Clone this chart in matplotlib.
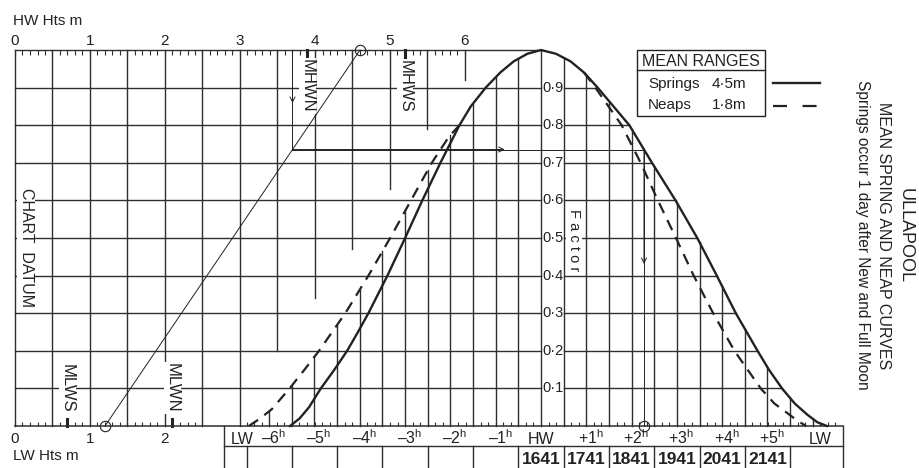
import numpy as np
import matplotlib
matplotlib.use("Agg")
import matplotlib.pyplot as plt
from matplotlib.lines import Line2D
from matplotlib.patches import Rectangle

plt.rcParams['font.family'] = ['Liberation Sans', 'DejaVu Sans']
plt.rcParams['mathtext.fontset'] = 'custom'
plt.rcParams['mathtext.rm'] = 'Liberation Sans'
plt.rcParams['mathtext.it'] = 'Liberation Sans'
plt.rcParams['mathtext.bf'] = 'Liberation Sans:bold'
plt.rcParams['mathtext.default'] = 'regular'

# ---------------- data ----------------
springs_hours = [-5.54, -5.33, -5.12, -4.86, -4.56, -4.28, -4.04, -3.81, -3.39, -3.00, -2.62, -2.22, -1.80,
                 -1.55, -1.22, -0.90, -0.60, -0.30, 0.00,
                 0.33, 0.65, 0.95, 1.25, 1.60, 1.95, 2.45, 2.97, 3.45, 3.88, 4.30, 4.78, 5.03, 5.32, 5.60,
                 5.88, 6.10, 6.31]
springs_factor = [0.00, 0.02, 0.05, 0.10, 0.15, 0.20, 0.25, 0.30, 0.40, 0.50, 0.60, 0.70, 0.80,
                  0.85, 0.90, 0.94, 0.97, 0.99, 1.00,
                  0.99, 0.97, 0.94, 0.90, 0.85, 0.80, 0.70, 0.60, 0.50, 0.40, 0.30, 0.20, 0.15, 0.10, 0.06,
                  0.03, 0.01, 0.00]
neaps_rise_hours = [-6.45, -6.20, -5.94, -5.55, -5.22, -4.90, -4.32, -3.81, -3.33, -2.87, -2.41, -2.03, -1.80]
neaps_rise_factor = [0.00, 0.02, 0.045, 0.10, 0.15, 0.20, 0.30, 0.40, 0.50, 0.60, 0.70, 0.77, 0.80]
neaps_fall_hours = [0.95, 1.20, 1.78, 2.20, 2.58, 2.98, 3.37, 3.80, 4.27, 4.85, 5.15, 5.43, 5.65, 5.85]
neaps_fall_factor = [0.94, 0.90, 0.80, 0.70, 0.60, 0.50, 0.40, 0.30, 0.20, 0.10, 0.06, 0.035, 0.015, 0.00]

factor_levels = [0.1, 0.2, 0.3, 0.4, 0.5, 0.6, 0.7, 0.8, 0.9]
factor_labels = ['0·1', '0·2', '0·3', '0·4', '0·5', '0·6', '0·7', '0·8', '0·9']

hw_height_ticks = [0, 1, 2, 3, 4, 5, 6]
lw_height_ticks = [0, 1, 2]
height_grid = [0.5, 1.0, 1.5, 2.0, 2.5, 3.0, 3.5, 4.0, 4.5, 5.0, 5.5, 6.0]
height_grid_stop = [0, 0, 0, 0, 0, 0, 0.20, 0.34, 0.47, 0.63, 0.79, 0.92]

level_names = ['MHWS', 'MHWN', 'MLWN', 'MLWS']
level_heights = [5.2, 3.9, 2.1, 0.7]
level_on_hw_scale = [True, True, False, False]

example_hw = 4.6
example_lw = 1.2
example_height = 3.7

time_label_hours = [-6.6, -6, -5, -4, -3, -2, -1, 0, 1, 2, 3, 4, 5, 6.16]
time_labels = ['LW', '–6$^{h}$', '–5$^{h}$', '–4$^{h}$', '–3$^{h}$', '–2$^{h}$', '–1$^{h}$', 'HW',
               '+1$^{h}$', '+2$^{h}$', '+3$^{h}$', '+4$^{h}$', '+5$^{h}$', 'LW']
hw_time_hours = [0, 1, 2, 3, 4, 5]
hw_times = ['1641', '1741', '1841', '1941', '2041', '2141']

springs_range = 4.5
neaps_range = 1.8

# ---------------- layout ----------------
W, H, DPI = 920, 468, 100
X0_PX, M_PX = 15, 75.0
HW_PX, H_PX = 541, 45.3
BASE_PX, TOP_PX = 426, 50
TABLE_LEFT_H, TABLE_RIGHT_H = -7.0, 6.67
INK = '#222222'
GRID = '#2e2e2e'


def fy(py):
    return (BASE_PX - py) / (BASE_PX - TOP_PX)


def fx(px):
    return px / W


def fyf(py):
    return 1 - py / H


fig = plt.figure(figsize=(W / DPI, H / DPI), dpi=DPI)
fig.patch.set_facecolor('white')
axh = fig.add_axes([0, 0, 1, 1])
axh.set_xlim(-X0_PX / M_PX, (W - X0_PX) / M_PX)
axh.set_ylim(fy(H), fy(0))
axt = fig.add_axes([0, 0, 1, 1])
axt.set_xlim(-HW_PX / H_PX, (W - HW_PX) / H_PX)
axt.set_ylim(fy(H), fy(0))
for a in (axh, axt):
    a.axis('off')
    a.patch.set_alpha(0)


def m2h(m):
    d = axh.transData.transform((m, 0))
    return axt.transData.inverted().transform(d)[0]


glw = 1.0
hw_m = axh.transData.inverted().transform(axt.transData.transform((0, 0)))[0]

sp_h = np.array(springs_hours)
sp_f = np.array(springs_factor)
pk = int(np.argmax(sp_f))
fall_h = sp_h[pk:][::-1]
fall_f = sp_f[pk:][::-1]

# horizontal grid, left block
for f in factor_levels + [1.0]:
    axh.plot([0, hw_m], [f, f], color=GRID, lw=glw, zorder=2)
# horizontal grid right of HW, clipped by springs curve
for f in factor_levels:
    t_end = np.interp(f, fall_f, fall_h)
    axt.plot([0.5, t_end], [f, f], color=GRID, lw=glw, zorder=2)
# left border and HW line
axh.plot([0, 0], [0, 1], color=GRID, lw=glw, zorder=2)
axt.plot([0, 0], [0, 1], color=GRID, lw=glw, zorder=2)
# height grid lines
for m, fb in zip(height_grid, height_grid_stop):
    axh.plot([m, m], [fb, 1], color=GRID, lw=glw, zorder=2)


def envelope(t):
    s = np.interp(t, sp_h, sp_f, left=0, right=0)
    nr = np.interp(t, neaps_rise_hours, neaps_rise_factor, left=0, right=0)
    nf = np.interp(t, neaps_fall_hours, neaps_fall_factor, left=0, right=0)
    return max(s, nr, nf)


for t in np.arange(-6.5, 6.01, 0.5):
    if abs(t) < 1e-9:
        continue
    top = envelope(t)
    if top > 0:
        axt.plot([t, t], [0, top], color=GRID, lw=glw, zorder=2)

# ticks
tick_len = 5 / (BASE_PX - TOP_PX)
axh.vlines(np.arange(0, 6.001, 0.1), 1 - tick_len, 1, color=GRID, lw=0.8, zorder=2)
axh.vlines(np.arange(0, 2.501, 0.1), 0, tick_len * 0.8, color=GRID, lw=0.8, zorder=2)
axt.vlines(np.arange(-6.5, 6.51, 1 / 6), 0, tick_len * 0.8, color=GRID, lw=0.8, zorder=2)

# baseline
axt.plot([m2h(0), TABLE_RIGHT_H], [0, 0], color=GRID, lw=1.1, zorder=2)

# curves
axt.plot(sp_h, sp_f, color=INK, lw=1.7, zorder=4, solid_joinstyle='round')
dash = (0, (5, 3.5))
axt.plot(neaps_rise_hours, neaps_rise_factor, color=INK, lw=1.6, ls=dash, zorder=4)
axt.plot(neaps_fall_hours, neaps_fall_factor, color=INK, lw=1.6, ls=dash, zorder=4)

# table
row_f = fy(446)
bot_f = fy(H)
axt.plot([TABLE_LEFT_H, TABLE_LEFT_H], [0, bot_f], color=GRID, lw=glw)
axt.plot([TABLE_RIGHT_H, TABLE_RIGHT_H], [0, bot_f], color=GRID, lw=glw)
axt.plot([TABLE_LEFT_H, TABLE_RIGHT_H], [row_f, row_f], color=GRID, lw=glw)
for t in np.arange(-6.5, 5.51, 1.0):
    axt.plot([t, t], [row_f, bot_f], color=GRID, lw=glw)

for t, lab in zip(time_label_hours, time_labels):
    off = 0.1 if 'h' in lab else 0.0
    axt.text(t + off, fy(444), lab, ha='center', va='baseline', fontsize=11.5, color=INK)
for t, lab in zip(hw_time_hours, hw_times):
    axt.text(t, fy(464), lab, ha='center', va='baseline', fontsize=12.5, fontweight='bold', color=INK)

# height scale labels
for m in hw_height_ticks:
    axh.text(m, fy(45), str(m), ha='center', va='baseline', fontsize=11, color=INK)
for m in lw_height_ticks:
    axh.text(m, fy(443), str(m), ha='center', va='baseline', fontsize=11, color=INK)
fig.text(fx(13), fyf(25), 'HW Hts m', ha='left', va='baseline', fontsize=11, color=INK)
fig.text(fx(13), fyf(460), 'LW Hts m', ha='left', va='baseline', fontsize=11, color=INK)

# factor labels
for f, lab in zip(factor_levels, factor_labels):
    fig.text(0.03, f, lab, ha='left', va='center', fontsize=10.5, color=INK,
             transform=axt.transData, zorder=5)
fig.text(fx(574), fyf(240), 'F a c t o r', rotation=-90, ha='center', va='center', fontsize=10.5,
         color=INK, bbox=dict(facecolor='white', edgecolor='none', pad=0.5), zorder=5)

# chart datum
fig.text(fx(26), fyf(248), 'CHART  DATUM', rotation=-90, ha='center', va='center', fontsize=11.5,
         color=INK, bbox=dict(facecolor='white', edgecolor='none', pad=0.8), zorder=5)

# mean levels
for name, m, on_top in zip(level_names, level_heights, level_on_hw_scale):
    if on_top:
        axh.plot([m, m], [1, 1 - 7 / 376], color=INK, lw=2.2, zorder=3)
        yc = fy(86)
    else:
        axh.plot([m, m], [0, 7 / 376], color=INK, lw=2.2, zorder=3)
        yc = fy(388)
    fig.text(m, yc, name, rotation=-90, ha='center', va='center', fontsize=12, color=INK,
             transform=axh.transData, bbox=dict(facecolor='white', edgecolor='none', pad=0.6), zorder=5)

# worked example
ex_f = (example_height - example_lw) / (example_hw - example_lw)
thin = dict(color=INK, lw=0.7, zorder=3)
axh.plot([example_lw, example_hw], [0, 1], **thin)
axh.plot([example_lw, example_hw], [0, 1], 'o', mfc='none', mec=INK, mew=0.8, ms=7.5, zorder=3)
axh.plot([example_height, example_height], [1, ex_f], **thin)
t_start = m2h(example_height)
t_cross = float(np.interp(ex_f, fall_f, fall_h))
axt.plot([t_start, t_cross], [ex_f, ex_f], **thin)
axt.plot([t_cross, t_cross], [ex_f, 0], **thin)
axt.plot([t_cross], [0], 'o', mfc='none', mec=INK, mew=0.8, ms=7.5, zorder=3)
ap = dict(arrowstyle='->', lw=0.7, color=INK, mutation_scale=9, shrinkA=0, shrinkB=0)
axh.annotate('', xy=(example_height, fy(103)), xytext=(example_height, 1), arrowprops=ap)
axt.annotate('', xy=(-0.8, ex_f), xytext=(t_start, ex_f), arrowprops=ap)
axt.annotate('', xy=(t_cross, fy(264)), xytext=(t_cross, ex_f), arrowprops=ap)

# legend box
box = Rectangle((fx(637), fyf(116)), fx(765) - fx(637), fyf(50) - fyf(116), transform=fig.transFigure,
                facecolor='white', edgecolor=INK, lw=1.0, zorder=5)
fig.add_artist(box)
fig.add_artist(Line2D([fx(637), fx(765)], [fyf(70), fyf(70)], color=INK, lw=1.0, zorder=6))
fig.text(fx(701), fyf(66), 'MEAN RANGES', ha='center', va='baseline', fontsize=11.5, color=INK, zorder=6)
fig.text(fx(648), fyf(88), 'Springs', ha='left', va='baseline', fontsize=11, color=INK, zorder=6)
fig.text(fx(712), fyf(88), f'{springs_range:.1f}m'.replace('.', '·'), ha='left', va='baseline',
         fontsize=11, color=INK, zorder=6)
fig.text(fx(648), fyf(109), 'Neaps', ha='left', va='baseline', fontsize=11, color=INK, zorder=6)
fig.text(fx(712), fyf(109), f'{neaps_range:.1f}m'.replace('.', '·'), ha='left', va='baseline',
         fontsize=11, color=INK, zorder=6)
fig.add_artist(Line2D([fx(773), fx(820)], [fyf(83), fyf(83)], color=INK, lw=1.7))
fig.add_artist(Line2D([fx(773), fx(820)], [fyf(106), fyf(106)], color=INK, lw=1.6,
                      ls=(0, (6.3, 7.0)), dash_capstyle='butt'))

# titles
fig.text(fx(905), fyf(236), 'ULLAPOOL', rotation=-90, ha='center', va='center', fontsize=13, color=INK)
fig.text(fx(884), fyf(236), 'MEAN SPRING AND NEAP CURVES', rotation=-90, ha='center', va='center',
         fontsize=11.5, color=INK)
fig.text(fx(863), fyf(235), 'Springs occur 1 day after New and Full Moon', rotation=-90, ha='center',
         va='center', fontsize=11.2, color=INK)

fig.savefig('out.png', dpi=DPI, facecolor='white')
